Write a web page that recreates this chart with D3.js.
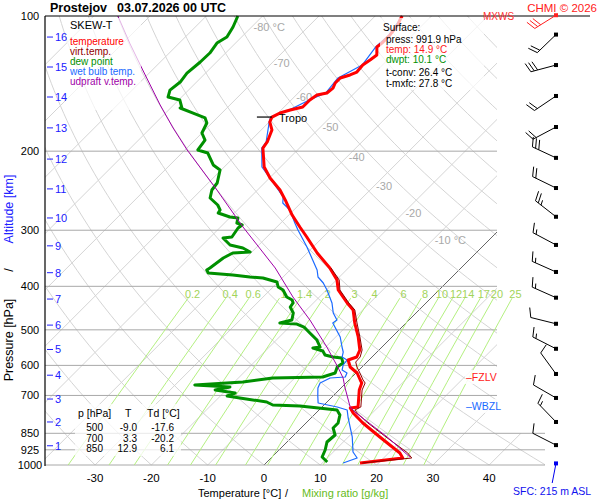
<!DOCTYPE html>
<html>
<head>
<meta charset="utf-8">
<script src="https://cdn.jsdelivr.net/npm/d3@7"></script>
<style>
body { margin: 0; background: #fff; }
svg { font-family: "Liberation Sans", Arial, sans-serif; }
</style>
</head>
<body>
<div id="chart"></div>
<script>
/*
*    skew-T  Prostejov 03.07.2026 00 UTC
*/

var w = 600;
var h = 500;

// ---- sounding data (pressure hPa, value degC) ----
var tempPres = [100,102.1,104.7,110.2,114.9,117.2,122.1,125.3,128.6,133.3,135.3,137.4,141.0,144.7,148.4,150.0,153.8,159.5,161.9,164.5,167.9,172.2,179.4,190.8,196.8,216.9,229.5,244.1,256.9,277.5,295.1,310.6,337.2,364.1,387.2,407.6,435.7,451.6,482.8,518.7,554.5,574.8,583.7,605.0,623.9,646.7,656.7,680.7,742.7,746.5,765.9,806.2,866.2,940.3,964.7,989.8];
var tempVal  = [-55.2,-54.9,-54.4,-54.0,-54.0,-54.2,-52.8,-53.1,-53.5,-53.3,-54.0,-55.2,-55.2,-54.7,-54.9,-56.3,-56.7,-56.7,-58.4,-59.7,-60.4,-59.9,-58.1,-56.8,-56.5,-52.9,-49.9,-46.0,-43.3,-39.4,-35.9,-32.9,-28.2,-23.3,-19.9,-17.9,-14.0,-11.7,-9.1,-6.0,-3.4,-2.7,-3.7,-2.1,0.2,2.0,2.8,3.6,6.4,5.2,6.6,10.1,15.6,22.0,23.4,16.7];

var virtPres = [364.1,387.2,407.6,435.7,451.6,482.8,518.7,554.5,574.8,589.7,605.0,623.9,646.7,656.7,680.7,742.7,754.2,765.9,806.2,866.2,940.3,964.7,989.8];
var virtVal  = [-23.1,-19.5,-17.6,-13.7,-11.4,-8.7,-5.7,-3.0,-2.1,-2.0,-0.9,0.7,2.5,3.4,4.1,6.9,6.4,7.3,11.0,16.7,23.4,25.0,17.1];

var dewPres = [100,105.8,111.4,114.9,120.9,126.6,134.0,140.3,146.2,151.5,153.8,159.5,160.3,164.5,168.7,173.1,182.2,188.9,198.8,201.9,214.7,220.3,235.5,244.1,254.3,263.6,270.4,274.6,280.3,281.8,289.1,292.1,296.6,310.6,312.2,323.6,328.6,335.4,337.2,345.9,364.1,367.9,373.6,377.4,381.3,383.3,391.2,401.4,407.6,422.5,429.1,435.7,444.8,458.6,475.4,482.8,485.3,492.8,508.2,526.8,546.0,548.8,557.3,568.9,574.8,577.7,592.7,605.0,623.9,636.8,640.1,653.3,663.5,670.3,680.7,691.3,702.0,709.2,723.9,735.1,738.9,754.2,773.8,806.2,827.1,857.4,888.7,925.9,959.8,984.7];
var dewVal  = [-84.4,-83.3,-82.6,-83.3,-82.8,-82.9,-83.3,-82.9,-83.3,-82.4,-79.8,-78.2,-78.3,-75.1,-72.1,-70.9,-70.0,-68.2,-67.7,-65.4,-62.3,-60.2,-58.4,-58.1,-57.0,-54.4,-53.1,-52.9,-50.1,-48.5,-47.8,-46.5,-46.7,-46.2,-47.6,-45.1,-42.3,-40.3,-43.2,-44.0,-44.6,-44.8,-44.0,-39.3,-35.9,-33.4,-30.2,-29.1,-27.7,-25.8,-24.3,-23.6,-23.4,-21.8,-20.8,-22.4,-19.2,-17.4,-15.3,-12.8,-11.0,-12.1,-9.8,-8.7,-6.9,-5.2,-4.1,-4.4,-3.7,-5.2,-13.9,-18.5,-26.5,-19.9,-22.0,-17.9,-18.8,-16.2,-10.7,-9.1,-4.1,3.2,4.6,5.7,5.7,7.3,7.1,8.2,8.9,10.7];

var wetPres = [100,110.2,117.2,128.6,137.4,148.4,153.8,161.9,167.9,172.2,190.8,196.8,216.9,237.9,253.0,260.9,270.4,289.1,299.7,326.9,367.9,381.3,393.2,407.6,435.7,458.6,475.4,482.8,518.7,546.0,560.2,574.8,583.7,598.8,614.3,623.9,636.8,640.1,656.7,673.8,702.0,727.6,742.7,754.2,785.8,866.2,935.5,964.7,989.8];
var wetVal  = [-55.2,-54.2,-54.4,-53.6,-55.6,-55.1,-56.8,-58.6,-60.6,-60.0,-57.0,-56.7,-53.3,-47.8,-44.2,-43.2,-40.7,-37.5,-35.7,-31.1,-25.2,-23.8,-21.8,-19.9,-16.7,-14.7,-12.8,-13.0,-9.2,-7.1,-6.0,-5.3,-3.9,-3.7,-3.0,-1.6,-1.2,-3.7,-4.6,-4.1,-2.7,-1.4,2.7,5.0,6.6,10.7,13.5,15.3,13.7];

var parcelPres = [100,114.9,131.9,157.8,177.6,198.8,244.1,295.1,364.1,422.5,475.4,546.0,605.0,640.1,670.3,742.7,765.9,806.2,866.2,959.8];
var parcelVal  = [-105.7,-98.8,-91.7,-82.4,-76.0,-69.6,-57.2,-46.0,-33.0,-24.7,-17.6,-9.8,-4.3,-1.4,0.5,5.0,7.1,11.2,16.9,24.5];

// ---- altitude (km) levels and winds ----
var kmLevels = [1,2,3,4,5,6,7,8,9,10,11,12,13,14,15,16];
var kmPres   = [906,802,713,631,553,488,427,373,325,281.7,242.7,208.3,177.5,151.5,129.9,111.4];

var windPres = [903,802,709,627,551,484.7,424,371.6,323.5,280,241.6,207,176.7,150.7,128.6,110];
var windDir  = [297,316,300,324,297,284,294,294,298,308,296,295,242,236,255,226];
var windSpd  = [10,15,10,10,15,10,15,15,15,25,20,30,20,20,30,20];
var mxwsPres = 99.6, mxwsDir = 238, mxwsSpd = 30;
var sfcWindDir = 191;

// ---- axes, grids, labels ----
var pressLevels = [100,200,300,400,500,600,700,850,925,1000];
var tempTicks = [-30,-20,-10,0,10,20,30,40];
var isoLabelT = [-80,-70,-60,-50,-40,-30,-20,-10];
var isoLabelP = [105.8,127.3,151.5,176.7,206.1,239.1,274.6,315.4];
var mixRatios = [0.2,0.4,0.6,1,1.4,2,3,4,6,8,10,12,14,17,20,25];
var mixLabels = ["0.2","0.4","0.6","1","1.4","2","3","4","6","8","10","12","14","17","20","25"];

var tableP  = [500,700,850];
var tableT  = [-9.0,3.3,12.9];
var tableTd = [-17.6,-20.2,6.1];

var sfcPress = 991.9, sfcTemp = 14.9, sfcDwpt = 10.1, tConv = 26.4, tMxfc = 27.8, sfcAlt = 215;
var tropoPres = 167.9, fzlvPres = 637, wbzlPres = 739;

// ---- scales ----
var y = d3.scaleLog().domain([100, 1000]).range([16, 465]);
var x0 = d3.scaleLinear().domain([0, 10]).range([264, 320.3]);
function sx(T, p) { return x0(T) + (y(1000) - y(p)); }

var svg = d3.select("#chart")
    .append("svg")
        .attr("width", w)
        .attr("height", h);

svg.append("rect").attr("width", w).attr("height", h).attr("fill", "#fff");

svg.append("clipPath").attr("id", "gridclip")
    .append("polygon")
    .attr("points", "45,16 497,16 497,433 545,433 545,466 45,466");

var line = d3.line()
    .x(function(d){ return sx(d[1], d[0]); })
    .y(function(d){ return y(d[0]); });

var grid = svg.append("g").attr("clip-path", "url(#gridclip)");

// isotherms
d3.range(-130, 50, 10).forEach(function(T){
    grid.append("path")
        .attr("d", line([[1000, T], [100, T]]))
        .attr("stroke", T === 0 ? "#666" : "#d4d4d4")
        .attr("stroke-width", 1)
        .attr("fill", "none");
});

// dry adiabats
var adiaP = d3.range(0, 61).map(function(i){ return 1000 * Math.pow(0.1, i / 60); });
d3.range(-40, 230, 10).forEach(function(th){
    var pts = adiaP.map(function(p){
        return [p, (th + 273.15) * Math.pow(p / 1000, 0.2857) - 273.15];
    });
    grid.append("path")
        .attr("d", line(pts))
        .attr("stroke", "#d4d4d4")
        .attr("stroke-width", 1)
        .attr("fill", "none");
});

// pressure lines
pressLevels.forEach(function(p){
    if (p === 100) return;
    svg.append("line")
        .attr("x1", 45).attr("x2", p >= 850 ? 545 : 497)
        .attr("y1", y(p)).attr("y2", y(p))
        .attr("stroke", "#a8a8a8")
        .attr("stroke-width", 1);
});

// mixing ratio lines
function dewFromMix(wr, p) {
    var e = wr * p / (622 + wr);
    var l = Math.log(e / 6.112);
    return 243.5 * l / (17.67 - l);
}
var mixP = d3.range(0, 11).map(function(i){ return 1000 - i * 57.5; });
mixRatios.forEach(function(wr, i){
    var pts = mixP.map(function(p){ return [p, dewFromMix(wr, p)]; });
    svg.append("path")
        .attr("d", line(pts))
        .attr("stroke", "#b4f080")
        .attr("stroke-width", 1)
        .attr("fill", "none");
    svg.append("text")
        .attr("x", sx(dewFromMix(wr, 412), 412))
        .attr("y", y(425) - 0.5)
        .attr("text-anchor", "middle")
        .attr("font-size", "11px")
        .attr("fill", "#a2d45a")
        .text(mixLabels[i]);
});

// isotherm labels
isoLabelT.forEach(function(T, i){
    svg.append("text")
        .attr("x", sx(T, isoLabelP[i]) + 2)
        .attr("y", y(isoLabelP[i]) + 4)
        .attr("font-size", "11px")
        .attr("fill", "#a8a8a8")
        .text(T + ((T === -80 || T === -10) ? " \u00b0C" : ""));
});

// ---- curves ----
function curve(pres, vals, color, width) {
    return svg.append("path")
        .attr("d", line(d3.zip(pres, vals)))
        .attr("stroke", color)
        .attr("stroke-width", width)
        .attr("stroke-linejoin", "round")
        .attr("fill", "none");
}
curve(dewPres, dewVal, "#009000", 3);
curve(wetPres, wetVal, "#1a6aff", 1.2);
curve(tempPres, tempVal, "#ff0000", 3);
curve(virtPres, virtVal, "#900000", 1);
curve(parcelPres, parcelVal, "#a000a8", 1);

// tropopause
svg.append("line")
    .attr("x1", sx(-60.4, tropoPres) - 15).attr("x2", sx(-60.4, tropoPres))
    .attr("y1", y(tropoPres)).attr("y2", y(tropoPres))
    .attr("stroke", "#000").attr("stroke-width", 1.2);
svg.append("text")
    .attr("x", sx(-60.4, tropoPres) + 7).attr("y", y(tropoPres) + 5)
    .attr("font-size", "11px").text("Tropo");

// ---- frame ----
svg.append("line").attr("x1", 45).attr("x2", 590).attr("y1", 16).attr("y2", 16)
    .attr("stroke", "#000").attr("stroke-width", 1.2);
svg.append("line").attr("x1", 45).attr("x2", 45).attr("y1", 16).attr("y2", 466)
    .attr("stroke", "#000").attr("stroke-width", 1.2);

// pressure labels
pressLevels.forEach(function(p){
    svg.append("text")
        .attr("x", 30).attr("y", y(p) + 4)
        .attr("text-anchor", "middle")
        .attr("font-size", "11px")
        .text(p);
});

// altitude ticks
kmLevels.forEach(function(k, i){
    var yy = y(kmPres[i]);
    svg.append("line").attr("x1", 47).attr("x2", 53).attr("y1", yy).attr("y2", yy)
        .attr("stroke", "#2020ff").attr("stroke-width", 1);
    svg.append("text").attr("x", 55).attr("y", yy + 4)
        .attr("font-size", "11px").attr("fill", "#2020ff").text(k);
});

// temperature tick labels
tempTicks.forEach(function(T){
    svg.append("text")
        .attr("x", x0(T)).attr("y", 482)
        .attr("text-anchor", "middle")
        .attr("font-size", "11.5px")
        .text(T);
});

// axis titles
svg.append("text").attr("x", 198).attr("y", 497).attr("font-size", "11px").text("Temperature [\u00b0C]");
svg.append("text").attr("x", 285).attr("y", 497).attr("font-size", "11px").text("/");
svg.append("text").attr("x", 302).attr("y", 497).attr("font-size", "11px").attr("fill", "#66bb22").text("Mixing ratio [g/kg]");

var ytitle = svg.append("g").attr("transform", "translate(13,0) rotate(-90)");
ytitle.append("text").attr("x", -340).attr("y", 0).attr("text-anchor", "middle")
    .attr("font-size", "12.5px").text("Pressure [hPa]");
ytitle.append("text").attr("x", -270).attr("y", 0).attr("text-anchor", "middle")
    .attr("font-size", "12.5px").text("/");
ytitle.append("text").attr("x", -209).attr("y", 0).attr("text-anchor", "middle")
    .attr("font-size", "12.5px").attr("fill", "#2020ff").text("Altitude [km]");

// title
svg.append("text").attr("x", 50).attr("y", 12).attr("font-size", "12.5px")
    .attr("font-weight", "bold").text("Prostejov");
svg.append("text").attr("x", 117).attr("y", 12).attr("font-size", "12.5px")
    .attr("font-weight", "bold").text("03.07.2026 00 UTC");
svg.append("text").attr("x", 597).attr("y", 12).attr("text-anchor", "end")
    .attr("font-size", "11.5px").attr("fill", "#ff2020").text("CHMI \u00a9 2026");

// ---- wind barbs ----
var bx = 556;
function barb(p, dir, spd, color, len, feathers) {
    var py = y(p);
    var r = dir * Math.PI / 180;
    var ux = Math.sin(r), uy = -Math.cos(r);
    var ex = bx + ux * len, ey = py + uy * len;
    var g = svg.append("g").attr("stroke", color).attr("stroke-width", 1).attr("fill", "none");
    g.append("line").attr("x1", bx).attr("y1", py).attr("x2", ex).attr("y2", ey);
    svg.append("rect").attr("x", bx - 2).attr("y", py - 2).attr("width", 4).attr("height", 4)
        .attr("fill", color);
    if (!feathers) return;
    var a = Math.atan2(uy, ux) + 70 * Math.PI / 180;
    var fx = Math.cos(a), fy = Math.sin(a);
    var full = Math.floor(spd / 10), half = (spd % 10) >= 5;
    var pos = 0;
    for (var i = 0; i < full; i++) {
        var sx0 = ex - ux * pos, sy0 = ey - uy * pos;
        g.append("line").attr("x1", sx0).attr("y1", sy0)
            .attr("x2", sx0 + fx * 10).attr("y2", sy0 + fy * 10);
        pos += 3.5;
    }
    if (half) {
        if (pos === 0) pos = 3.5;
        var hx = ex - ux * pos, hy = ey - uy * pos;
        g.append("line").attr("x1", hx).attr("y1", hy)
            .attr("x2", hx + fx * 5).attr("y2", hy + fy * 5);
    }
}
windPres.forEach(function(p, i){
    barb(p, windDir[i], windSpd[i], "#000", 26, true);
});
barb(mxwsPres, mxwsDir, mxwsSpd, "#ff2020", 25, true);
barb(sfcPress, sfcWindDir, 0, "#0000ee", 20, false);

svg.append("text").attr("x", 483).attr("y", 20).attr("font-size", "10px")
    .attr("fill", "#ff3030").text("MXWS");
svg.append("text").attr("x", 513).attr("y", 495).attr("font-size", "10.5px")
    .attr("fill", "#1010ee").text("SFC: " + sfcAlt + " m ASL");

// ---- level markers ----
function levelMark(p, label, color) {
    var yy = y(p);
    svg.append("rect").attr("x", 465).attr("y", yy - 7).attr("width", 43).attr("height", 14)
        .attr("fill", "#fff").attr("opacity", 0.85);
    svg.append("text").attr("x", 466).attr("y", yy + 4)
        .attr("font-size", "10.5px").attr("fill", color).text("\u2013" + label);
}
levelMark(fzlvPres, "FZLV", "#ff2020");
levelMark(wbzlPres, "WBZL", "#1a6aff");

// ---- legend box ----
svg.append("rect").attr("x", 67).attr("y", 18).attr("width", 74).attr("height", 92)
    .attr("fill", "#fff").attr("opacity", 0.7);
var legendItems = [["SKEW-T", "#000"], ["temperature", "#ff0000"], ["virt.temp.", "#900000"],
    ["dew point", "#009000"], ["wet bulb temp.", "#1a6aff"], ["udpraft v.temp.", "#a000a8"]];
legendItems.forEach(function(d, i){
    svg.append("text")
        .attr("x", 70).attr("y", i === 0 ? 29 : 45 + (i - 1) * 10)
        .attr("font-size", i === 0 ? "11px" : "10px")
        .attr("fill", d[1]).text(d[0]);
});

// ---- surface box ----
svg.append("rect").attr("x", 380).attr("y", 18).attr("width", 104).attr("height", 72)
    .attr("fill", "#fff").attr("opacity", 0.7);
var sfcLines = [
    ["Surface:", "#000", 383, 31],
    ["press: " + sfcPress.toFixed(1) + " hPa", "#000", 386, 43],
    ["temp: " + sfcTemp.toFixed(1) + " \u00b0C", "#ff2020", 386, 53],
    ["dwpt: " + sfcDwpt.toFixed(1) + " \u00b0C", "#009000", 386, 63],
    ["t-conv: " + tConv.toFixed(1) + " \u00b0C", "#000", 386, 76],
    ["t-mxfc: " + tMxfc.toFixed(1) + " \u00b0C", "#000", 386, 87]
];
sfcLines.forEach(function(d){
    svg.append("text").attr("x", d[2]).attr("y", d[3])
        .attr("font-size", "10px").attr("fill", d[1]).text(d[0]);
});

// ---- table box ----
svg.append("rect").attr("x", 75).attr("y", 404).attr("width", 106).attr("height", 52)
    .attr("fill", "#fff").attr("opacity", 0.75);
svg.append("text").attr("x", 78).attr("y", 417).attr("font-size", "10.5px").text("p [hPa]");
svg.append("text").attr("x", 125).attr("y", 417).attr("font-size", "10.5px").text("T");
svg.append("text").attr("x", 147).attr("y", 417).attr("font-size", "10.5px").text("Td [\u00b0C]");
tableP.forEach(function(p, i){
    var yy = 431 + i * 10.5;
    svg.append("text").attr("x", 103).attr("y", yy).attr("text-anchor", "end")
        .attr("font-size", "10px").text(p);
    svg.append("text").attr("x", 137).attr("y", yy).attr("text-anchor", "end")
        .attr("font-size", "10px").text(tableT[i].toFixed(1));
    svg.append("text").attr("x", 174).attr("y", yy).attr("text-anchor", "end")
        .attr("font-size", "10px").text(tableTd[i].toFixed(1));
});
</script>
</body>
</html>
